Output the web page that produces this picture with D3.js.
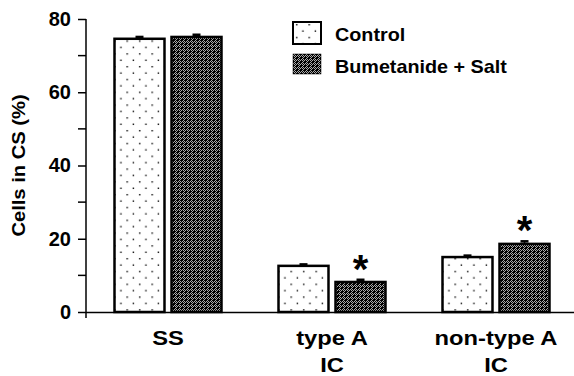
<!DOCTYPE html>
<html>
<head>
<meta charset="utf-8">
<script src="https://cdn.jsdelivr.net/npm/d3@7"></script>
<style>
  body { margin: 0; background: #fff; }
  svg { display: block; font-family: "Liberation Sans", Arial, sans-serif; font-weight: bold; }
</style>
</head>
<body>
<main></main>
<script>
"use strict";

const groups = ["SS", "type A|IC", "non-type A|IC"];
const series = ["Control", "Bumetanide + Salt"];
const controlValues = [74.6, 12.6, 15.0];
const bumetValues = [75.1, 8.2, 18.6];
const controlErr = [0.5, 0.4, 0.4];
const bumetErr = [0.6, 0.6, 0.7];
const significant = [false, true, true];
const yTicks = [0, 20, 40, 60, 80];
const yMinorTicks = [10, 30, 50, 70];

const svgWidth = 574;
const svgHeight = 376;

const svg = d3.select("main")
  .append("svg")
  .attr("width", svgWidth)
  .attr("height", svgHeight)
;

// fill patterns
const defs = svg.append("defs");
const dots = defs.append("pattern")
  .attr("id", "dots")
  .attr("patternUnits", "userSpaceOnUse")
  .attr("width", 12.5)
  .attr("height", 12.8)
;
dots.append("rect").attr("width", 12.5).attr("height", 12.8).attr("fill", "#fff");
[[3, 2], [9.25, 8.4]].forEach(p => {
  dots.append("rect").attr("x", p[0]).attr("y", p[1]).attr("width", 1.4).attr("height", 1.4).attr("fill", "#000");
});

const hatch = defs.append("pattern")
  .attr("id", "hatch")
  .attr("patternUnits", "userSpaceOnUse")
  .attr("width", 4)
  .attr("height", 4)
;
hatch.append("rect").attr("width", 4).attr("height", 4).attr("fill", "#000");
[[1, 0], [0, 1], [2, 1], [1, 2], [3, 2], [2, 3]].forEach(p => {
  hatch.append("rect").attr("x", p[0]).attr("y", p[1]).attr("width", 1).attr("height", 1).attr("fill", "#aaa");
});

const fills = ["url(#dots)", "url(#hatch)"];

const xScale = d3.scaleBand()
  .domain(groups)
  .range([86, 578])
;
const xSub = d3.scaleBand()
  .domain(series)
  .range([(xScale.bandwidth() - 107) / 2, (xScale.bandwidth() + 107) / 2])
  .paddingInner(0.123)
;
const yScale = d3.scaleLinear()
  .domain([0, 80])
  .range([312, 19])
;

// y axis
const yAxis = d3.axisLeft(yScale)
  .tickValues(yTicks)
  .tickSize(8)
  .tickPadding(7)
;
const yG = svg.append("g")
  .attr("transform", "translate(86,0)")
  .call(yAxis)
;
yG.select(".domain").remove();
yG.selectAll(".tick line").attr("stroke", "#000").attr("stroke-width", 1.5);
yG.selectAll(".tick text")
  .style("font-size", "20px")
  .style("font-weight", "bold")
  .style("font-family", "'Liberation Sans', Arial, sans-serif")
  .attr("fill", "#000")
;
yG.selectAll(".minor")
  .data(yMinorTicks)
  .enter()
  .append("line")
  .attr("x1", -8)
  .attr("x2", 0)
  .attr("y1", d => yScale(d))
  .attr("y2", d => yScale(d))
  .attr("stroke", "#000")
  .attr("stroke-width", 1.5)
;
yG.append("line")
  .attr("x1", 0).attr("x2", 0)
  .attr("y1", yScale(80))
  .attr("y2", yScale(0) + 6)
  .attr("stroke", "#000")
  .attr("stroke-width", 1.5)
;

// x axis line
svg.append("line")
  .attr("x1", 86)
  .attr("x2", svgWidth)
  .attr("y1", yScale(0) + 0.5)
  .attr("y2", yScale(0) + 0.5)
  .attr("stroke", "#000")
  .attr("stroke-width", 1.5)
;

// y label
svg.append("text")
  .attr("transform", `translate(25, ${(yScale(0) + yScale(80)) / 2}) rotate(-90) scale(1.12,1)`)
  .attr("text-anchor", "middle")
  .style("font-size", "18px")
  .text("Cells in CS (%)")
;

// x labels
const xLabels = svg.append("g")
  .selectAll("g")
  .data(groups)
  .enter()
  .append("g")
  .attr("transform", d => `translate(${xScale(d) + xScale.bandwidth() / 2}, 345) scale(1.13,1)`)
  .append("text")
  .attr("text-anchor", "middle")
  .style("font-size", "21px")
;
xLabels.selectAll("tspan")
  .data(d => d.split("|"))
  .enter()
  .append("tspan")
  .attr("x", 0)
  .attr("dy", (d, i) => i === 0 ? 0 : 27)
  .text(d => d)
;

// bars
const rows = groups.map((g, i) => ({
  group: g,
  items: [
    { key: series[0], value: controlValues[i], err: controlErr[i], fill: fills[0], star: false },
    { key: series[1], value: bumetValues[i], err: bumetErr[i], fill: fills[1], star: significant[i] }
  ]
}));

const groupG = svg.append("g")
  .selectAll("g")
  .data(rows)
  .enter()
  .append("g")
  .attr("transform", d => `translate(${xScale(d.group)},0)`)
;

const barG = groupG.selectAll("g")
  .data(d => d.items)
  .enter()
  .append("g")
;

// error bars
barG.append("line")
  .attr("x1", d => xSub(d.key) + xSub.bandwidth() / 2)
  .attr("x2", d => xSub(d.key) + xSub.bandwidth() / 2)
  .attr("y1", d => yScale(d.value))
  .attr("y2", d => yScale(d.value + d.err))
  .attr("stroke", "#000")
  .attr("stroke-width", 1.5)
;
barG.append("line")
  .attr("x1", d => xSub(d.key) + xSub.bandwidth() / 2 - 4)
  .attr("x2", d => xSub(d.key) + xSub.bandwidth() / 2 + 4)
  .attr("y1", d => yScale(d.value + d.err))
  .attr("y2", d => yScale(d.value + d.err))
  .attr("stroke", "#000")
  .attr("stroke-width", 2.5)
;

barG.append("rect")
  .attr("x", d => xSub(d.key))
  .attr("y", d => yScale(d.value))
  .attr("width", xSub.bandwidth())
  .attr("height", d => yScale(0) - yScale(d.value))
  .attr("fill", d => d.fill)
  .attr("stroke", "#000")
  .attr("stroke-width", 2.5)
;

barG.filter(d => d.star)
  .append("text")
  .attr("x", d => xSub(d.key) + xSub.bandwidth() / 2)
  .attr("y", d => yScale(d.value + d.err) + 3)
  .attr("text-anchor", "middle")
  .style("font-size", "40px")
  .text("*")
;

// legend
const legend = svg.append("g")
  .attr("transform", "translate(293,22)")
;
const legendItem = legend.selectAll("g")
  .data(series)
  .enter()
  .append("g")
  .attr("transform", (d, i) => `translate(0, ${i * 32})`)
;
legendItem.append("rect")
  .attr("width", 28)
  .attr("height", (d, i) => i === 0 ? 22 : 20)
  .attr("fill", (d, i) => fills[i])
  .attr("stroke", "#000")
  .attr("stroke-width", (d, i) => i === 0 ? 2 : 0.5)
;
legendItem.append("text")
  .attr("transform", "translate(42, 19) scale(1.04,1)")
  .style("font-size", "19px")
  .text(d => d)
;
</script>
</body>
</html>
